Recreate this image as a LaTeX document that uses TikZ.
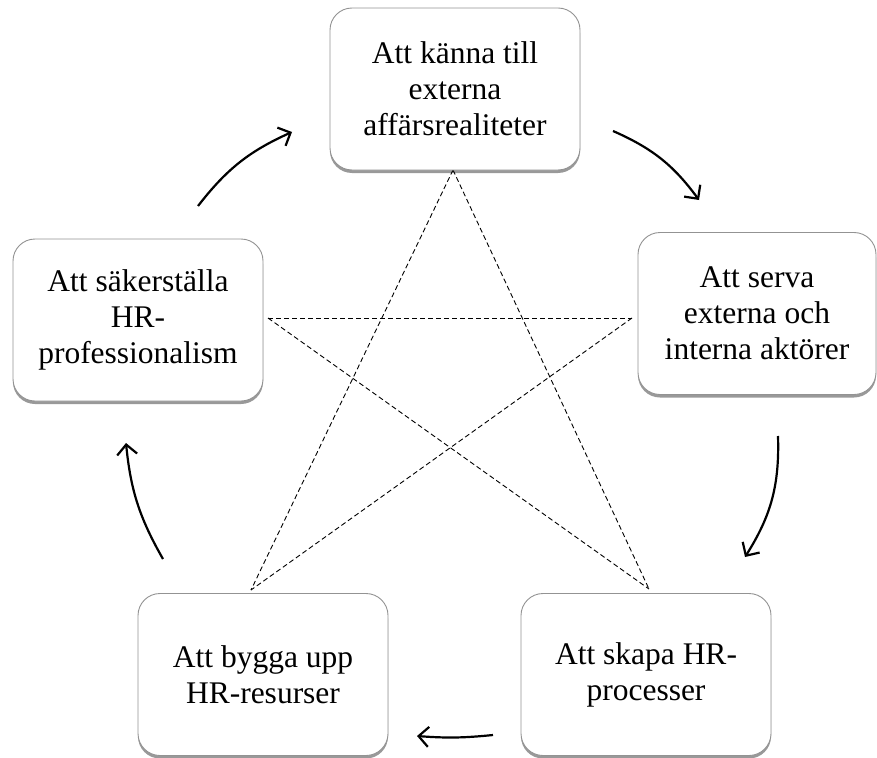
\documentclass[tikz,border=0pt]{standalone}
\usepackage{fontspec}
\setmainfont[Ligatures=NoCommon]{Liberation Serif}
\usetikzlibrary{arrows.meta,shadows}
\begin{document}
\begin{tikzpicture}[x=1pt,y=1pt,
  box/.style={draw=gray!85, line width=0.9pt, rounded corners=22pt, fill=white,
    minimum width=250pt, minimum height=162pt, align=center,
    font=\fontsize{31.5}{36}\selectfont,
    drop shadow={shadow xshift=0pt, shadow yshift=-3pt, opacity=0.4, fill=black}},
  star/.style={black, line width=0.9pt, dash pattern=on 5pt off 3pt},
  flow/.style={black, line width=2.2pt, -{Straight Barb[length=10pt,width=20pt,line width=2.2pt]}}]
\useasboundingbox (0,-757) rectangle (877,0);
% star vertices
\coordinate (sT) at (453,-170);
\coordinate (sL) at (268,-318);
\coordinate (sR) at (632,-318);
\coordinate (sBL) at (251,-590);
\coordinate (sBR) at (649,-589);
\draw[star] (sL) -- (sR);
\draw[star] (sT) -- (sBL);
\draw[star] (sT) -- (sBR);
\draw[star] (sL) -- (sBR);
\draw[star] (sR) -- (sBL);
% boxes
\node[box] (top) at (455,-89) {Att känna till\\externa\\affärsrealiteter};
\node[box, minimum width=238pt] (right) at (757,-313.5) {Att serva\\externa och\\interna aktörer};
\node[box] (left) at (138,-320) {Att säkerställa\\HR-\\professionalism};
\node[box] (bl) at (263,-674.5) {Att bygga upp\\HR-resurser};
\node[box] (br) at (646,-674.5) {Att skapa HR-\\processer};
% arrow end points
\coordinate (a1s) at (198,-206);
\coordinate (a1e) at (292,-132);
\coordinate (a2s) at (613,-131);
\coordinate (a2e) at (699,-200);
\coordinate (a3s) at (778,-436);
\coordinate (a3e) at (745,-557);
\coordinate (a4s) at (493,-735);
\coordinate (a4e) at (417,-736);
\coordinate (a5s) at (163,-559);
\coordinate (a5e) at (126,-443);
\draw[flow] (a1s) to[bend left=14] (a1e);
\draw[flow] (a2s) to[bend left=15] (a2e);
\draw[flow] (a3s) to[bend left=17] (a3e);
\draw[flow] (a4s) to[bend left=5] (a4e);
\draw[flow] (a5s) to[bend left=12] (a5e);
\end{tikzpicture}
\end{document}
